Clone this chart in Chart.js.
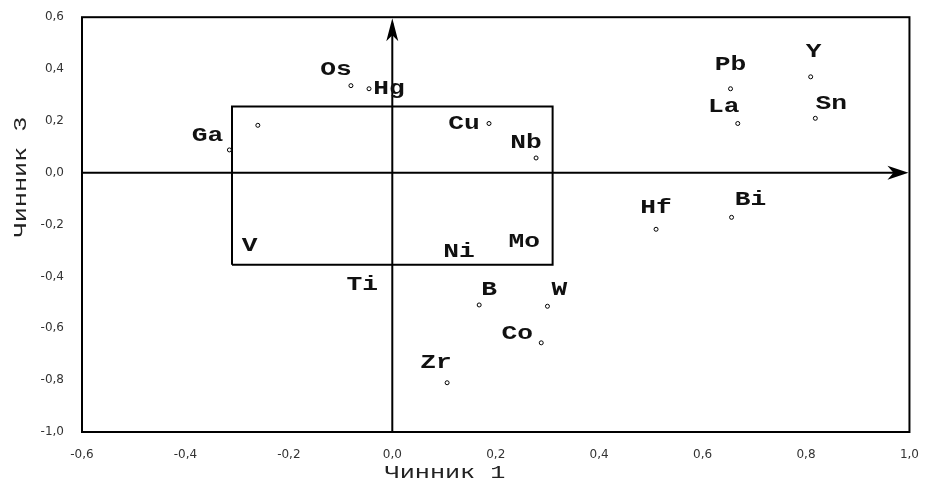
<!DOCTYPE html>
<html>
<head>
<meta charset="utf-8">
<script src="https://cdn.jsdelivr.net/npm/chart.js@4.4.1/dist/chart.umd.min.js"></script>
<style>
  html, body { margin: 0; padding: 0; background: #fff; }
  #wrap { width: 927px; height: 492px; }
</style>
</head>
<body>
<div id="wrap"><canvas id="factorChart"></canvas></div>
<script>
// elements with a visible marker
const elements = ['Os', 'Hg', 'Ga', '', 'Cu', 'Nb', 'B', 'W', 'Co', 'Zr', 'Pb', 'La', 'Y', 'Sn', 'Hf', 'Bi'];
const factor1 = [-0.08, -0.045, -0.315, -0.26, 0.187, 0.278, 0.168, 0.30, 0.288, 0.106, 0.654, 0.668, 0.809, 0.818, 0.51, 0.656];
const factor3 = [0.336, 0.324, 0.088, 0.183, 0.19, 0.057, -0.51, -0.515, -0.656, -0.81, 0.324, 0.19, 0.37, 0.21, -0.218, -0.172];

// elements whose marker sits under the label
const hiddenElements = ['V', 'Ni', 'Mo', 'Ti'];
const hiddenFactor1 = [-0.276, 0.129, 0.255, -0.058];
const hiddenFactor3 = [-0.28, -0.305, -0.267, -0.43];

// bounding box of the central group
const boxX = [-0.31, 0.31];
const boxY = [-0.355, 0.256];

const xTicks = [-0.6, -0.4, -0.2, 0.0, 0.2, 0.4, 0.6, 0.8, 1.0];
const yTicks = [-1.0, -0.8, -0.6, -0.4, -0.2, 0.0, 0.2, 0.4, 0.6];

const xTitle = 'Чинник 1';
const yTitle = 'Чинник 3';

// label placement relative to the marker, px
const labelShift = {
  Os: [-15, -16], Hg: [20, 0], Ga: [-22, -14], Cu: [-25, 0], Nb: [-10, -15],
  B: [10, -15], W: [12, -17], Co: [-24, -9], Zr: [-11, -20], Pb: [0, -24],
  La: [-14, -17], Y: [3, -25], Sn: [16, -15], Hf: [0, -22], Bi: [19, -18]
};

const fmt = v => (Math.abs(v) < 1e-9 ? 0 : v).toFixed(1).replace('.', ',');

const markedPoints = factor1.map((x, i) => ({ x: x, y: factor3[i], name: elements[i] }));
const hiddenPoints = hiddenFactor1.map((x, i) => ({ x: x, y: hiddenFactor3[i], name: hiddenElements[i] }));
const boxPoints = [
  { x: boxX[0], y: boxY[0] }, { x: boxX[0], y: boxY[1] },
  { x: boxX[1], y: boxY[1] }, { x: boxX[1], y: boxY[0] },
  { x: boxX[0], y: boxY[0] }
];

function stretchedText(ctx, text, x, y, sx, font) {
  ctx.save();
  ctx.font = font;
  ctx.translate(x, y);
  ctx.scale(sx, 1);
  ctx.textAlign = 'center';
  ctx.textBaseline = 'middle';
  ctx.fillText(text, 0, 0);
  ctx.restore();
}

const decorations = {
  id: 'decorations',
  beforeDatasetsDraw(chart) {
    const { ctx, chartArea: a, scales: { x, y } } = chart;
    const x0 = x.getPixelForValue(0);
    const y0 = y.getPixelForValue(0);
    ctx.save();
    ctx.strokeStyle = '#000';
    ctx.fillStyle = '#000';
    ctx.lineWidth = 2;
    ctx.strokeRect(a.left, a.top, a.right - a.left, a.bottom - a.top);

    // horizontal axis with arrow
    ctx.beginPath();
    ctx.moveTo(a.left, y0);
    ctx.lineTo(a.right - 6, y0);
    ctx.stroke();
    ctx.beginPath();
    ctx.moveTo(a.right - 1, y0);
    ctx.lineTo(a.right - 22, y0 - 7);
    ctx.lineTo(a.right - 16, y0);
    ctx.lineTo(a.right - 22, y0 + 7);
    ctx.closePath();
    ctx.fill();

    // vertical axis with arrow
    ctx.beginPath();
    ctx.moveTo(x0, a.bottom);
    ctx.lineTo(x0, a.top + 6);
    ctx.stroke();
    ctx.beginPath();
    ctx.moveTo(x0, a.top + 1);
    ctx.lineTo(x0 - 6, a.top + 24);
    ctx.lineTo(x0, a.top + 18);
    ctx.lineTo(x0 + 6, a.top + 24);
    ctx.closePath();
    ctx.fill();
    ctx.restore();
  },
  afterDatasetsDraw(chart) {
    const { ctx } = chart;
    ctx.save();
    ctx.fillStyle = '#111';
    const font = 'bold 21px "Liberation Mono", monospace';
    [0, 1].forEach(di => {
      const meta = chart.getDatasetMeta(di);
      meta.data.forEach((el, i) => {
        const p = chart.data.datasets[di].data[i];
        if (!p.name) return;
        const s = labelShift[p.name] || [0, 0];
        stretchedText(ctx, p.name, el.x + s[0], el.y + s[1], 1.25, font);
      });
    });

    // axis titles
    ctx.fillStyle = '#222';
    const tfont = '18px "Liberation Mono", monospace';
    stretchedText(ctx, xTitle, 445, 473, 1.4, tfont);
    ctx.save();
    ctx.translate(21, 177);
    ctx.rotate(-Math.PI / 2);
    stretchedText(ctx, yTitle, 0, 0, 1.4, tfont);
    ctx.restore();
    ctx.restore();
  }
};

new Chart(document.getElementById('factorChart'), {
  type: 'scatter',
  data: {
    datasets: [
      {
        data: markedPoints,
        pointRadius: 2,
        pointBorderWidth: 1,
        pointBorderColor: '#000',
        pointBackgroundColor: '#fff'
      },
      {
        data: hiddenPoints,
        pointRadius: 0
      },
      {
        data: boxPoints,
        showLine: true,
        borderColor: '#000',
        borderWidth: 2,
        pointRadius: 0,
        fill: false
      }
    ]
  },
  options: {
    responsive: true,
    maintainAspectRatio: false,
    animation: false,
    layout: { padding: { top: 13, right: 16, left: 0, bottom: 0 } },
    plugins: {
      legend: { display: false },
      tooltip: { enabled: false }
    },
    scales: {
      x: {
        type: 'linear',
        min: -0.6,
        max: 1.0,
        afterBuildTicks: s => { s.ticks = xTicks.map(v => ({ value: v })); },
        afterFit: s => { s.height = 60; },
        grid: { display: false },
        border: { display: false },
        ticks: {
          padding: 8,
          color: '#333',
          font: { family: '"DejaVu Sans", sans-serif', size: 12 },
          callback: v => fmt(v)
        }
      },
      y: {
        type: 'linear',
        min: -1.0,
        max: 0.6,
        afterBuildTicks: s => { s.ticks = yTicks.map(v => ({ value: v })); },
        afterFit: s => { s.width = 82; },
        grid: { display: false },
        border: { display: false },
        ticks: {
          padding: 10,
          color: '#333',
          font: { family: '"DejaVu Sans", sans-serif', size: 12 },
          callback: v => fmt(v)
        }
      }
    }
  },
  plugins: [decorations]
});
</script>
</body>
</html>
